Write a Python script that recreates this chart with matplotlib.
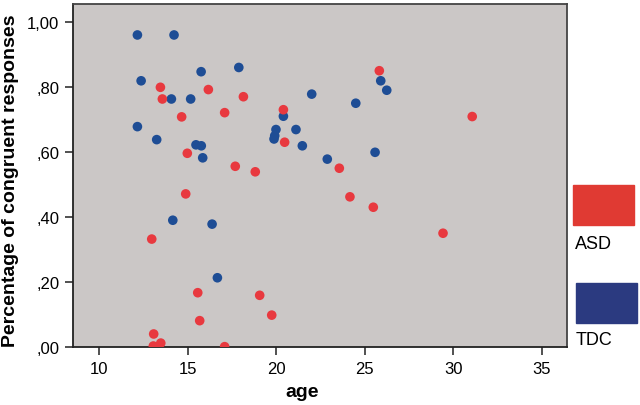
import matplotlib
matplotlib.use("Agg")
import matplotlib.pyplot as plt
from matplotlib.patches import Rectangle

plt.rcParams['font.family'] = ['Liberation Sans', 'DejaVu Sans']

# ASD group (red)
asd_age = [13.45, 13.56, 16.16, 18.14, 14.65, 17.08, 20.40, 20.47, 14.97, 17.68,
           18.81, 14.88, 25.82, 31.07, 23.56, 24.16, 25.48, 29.42, 12.96, 15.56,
           19.06, 19.74, 15.67, 13.07, 13.47, 13.05, 17.08]
asd_val = [0.800, 0.764, 0.793, 0.771, 0.709, 0.722, 0.731, 0.631, 0.597, 0.557,
           0.540, 0.472, 0.851, 0.710, 0.551, 0.463, 0.431, 0.351, 0.333, 0.168,
           0.160, 0.099, 0.082, 0.041, 0.013, 0.004, 0.002]

# TDC group (blue)
tdc_age = [12.15, 14.22, 12.36, 15.75, 17.88, 14.07, 15.16, 12.15, 13.24, 15.46,
           15.76, 15.84, 22.00, 20.40, 19.98, 19.91, 19.87, 21.11, 21.47, 25.90,
           26.24, 24.49, 25.58, 22.88, 14.15, 16.37, 16.67]
tdc_val = [0.961, 0.961, 0.820, 0.848, 0.861, 0.764, 0.764, 0.679, 0.639, 0.623,
           0.620, 0.583, 0.779, 0.711, 0.670, 0.651, 0.641, 0.670, 0.620, 0.820,
           0.791, 0.751, 0.600, 0.579, 0.391, 0.379, 0.214]

x_ticks = [10, 15, 20, 25, 30, 35]
y_ticks = [0.0, 0.2, 0.4, 0.6, 0.8, 1.0]
y_labels = [',00', ',20', ',40', ',60', ',80', '1,00']

red = '#e8393f'
blue = '#1e4d95'

fig = plt.figure(figsize=(6.4, 4.06), dpi=100)
ax = fig.add_axes([0.1146, 0.1421, 0.7709, 0.8456])
ax.set_facecolor('#cbc7c6')

ax.scatter(tdc_age, tdc_val, s=48, color=blue, edgecolors='none', zorder=3)
ax.scatter(asd_age, asd_val, s=48, color=red, edgecolors='none', zorder=3)

ax.set_xlim(8.53, 36.41)
ax.set_ylim(0, 1.0563)
ax.set_xticks(x_ticks)
ax.set_yticks(y_ticks)
ax.set_yticklabels(y_labels)
ax.tick_params(direction='out', length=6, width=1.2, color='#333333',
               labelsize=12, pad=4, top=False, right=False)
for sp in ax.spines.values():
    sp.set_color('#444444')
    sp.set_linewidth(1.3)
ax.spines['left'].set_color('#222222')
ax.spines['bottom'].set_color('#222222')

ax.set_xlabel('age', fontsize=14, fontweight='bold')
ax.xaxis.set_label_coords((302 - 73.3) / 493.4, -0.105)
ax.set_ylabel('Percentage of congruent responses', fontsize=14, fontweight='bold')
ax.yaxis.set_label_coords(-0.110, 0.487)

# legend boxes
fig.patches.append(Rectangle((573 / 640, 1 - 226 / 406), 61 / 640, 40 / 406,
                             transform=fig.transFigure, color='#e03a33'))
fig.text(575 / 640, 1 - 245 / 406, 'ASD', fontsize=13, va='center', ha='left')
fig.patches.append(Rectangle((576 / 640, 1 - 324 / 406), 61 / 640, 40 / 406,
                             transform=fig.transFigure, color='#2b3a80'))
fig.text(576 / 640, 1 - 341 / 406, 'TDC', fontsize=13, va='center', ha='left')

fig.savefig('out.png', dpi=100)
